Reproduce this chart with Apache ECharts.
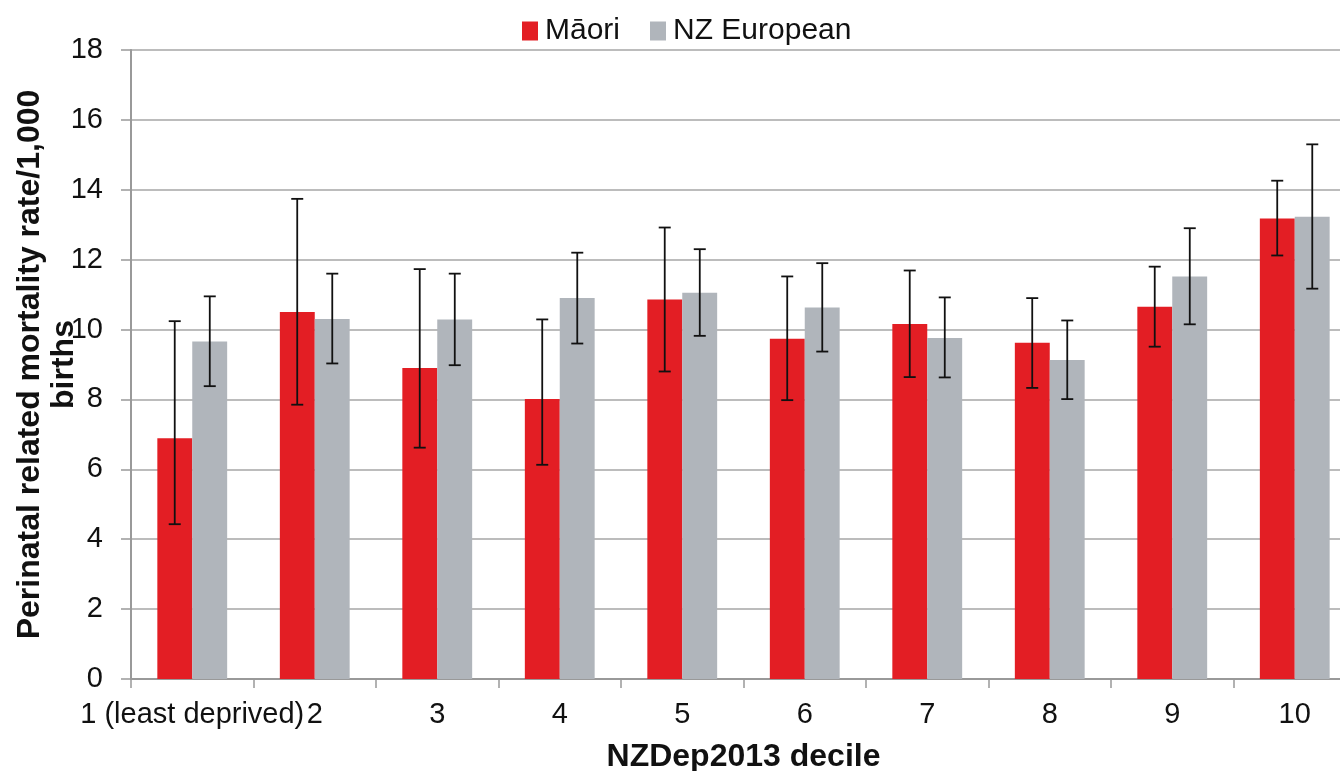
<!DOCTYPE html>
<html>
<head>
<meta charset="utf-8">
<script src="https://cdn.jsdelivr.net/npm/echarts@6/dist/echarts.min.js"></script>
<style>
html,body{margin:0;padding:0;background:#fff;}
#chart{width:1340px;height:771px;}
</style>
</head>
<body>
<div id="chart"></div>
<script>
const categories = ['1 (least deprived)', '2', '3', '4', '5', '6', '7', '8', '9', '10'];
const maori = [6.89, 10.5, 8.9, 8.01, 10.86, 9.74, 10.16, 9.62, 10.65, 13.18];
const maoriLow = [4.43, 7.85, 6.62, 6.13, 8.8, 7.98, 8.64, 8.33, 9.51, 12.12];
const maoriHigh = [10.24, 13.74, 11.73, 10.29, 12.92, 11.52, 11.69, 10.9, 11.8, 14.26];
const nzEuro = [9.66, 10.3, 10.29, 10.9, 11.05, 10.63, 9.76, 9.13, 11.52, 13.23];
const nzEuroLow = [8.38, 9.03, 8.98, 9.6, 9.82, 9.37, 8.63, 8.01, 10.15, 11.17];
const nzEuroHigh = [10.95, 11.6, 11.6, 12.2, 12.3, 11.9, 10.92, 10.26, 12.9, 15.3];
const yTicks = [0, 2, 4, 6, 8, 10, 12, 14, 16, 18];

const FONT = '"Liberation Sans", Arial, sans-serif';
const chart = echarts.init(document.getElementById('chart'));

function errData(low, high) {
  return categories.map((c, i) => [i, low[i], high[i]]);
}
function errRender(sign) {
  return function (params, api) {
    const idx = api.value(0);
    const lo = api.coord([idx, api.value(1)]);
    const hi = api.coord([idx, api.value(2)]);
    const band = api.size([1, 0])[0];
    const x = lo[0] + sign * band * 0.143;
    const cap = 6;
    const style = { stroke: '#111', lineWidth: 1.8 };
    return {
      type: 'group',
      children: [
        { type: 'line', shape: { x1: x, y1: hi[1], x2: x, y2: lo[1] }, style: style },
        { type: 'line', shape: { x1: x - cap, y1: hi[1], x2: x + cap, y2: hi[1] }, style: style },
        { type: 'line', shape: { x1: x - cap, y1: lo[1], x2: x + cap, y2: lo[1] }, style: style }
      ]
    };
  };
}

chart.setOption({
  animation: false,
  textStyle: { fontFamily: FONT },
  legend: {
    data: ['Māori', 'NZ European'],
    top: 11,
    left: 517,
    itemWidth: 16,
    itemHeight: 19,
    itemGap: 30,
    icon: 'rect',
    textStyle: { fontSize: 30, color: '#111', fontFamily: FONT, padding: [0, 0, 0, 2] }
  },
  grid: { left: 131, right: -16, top: 50, bottom: 92, containLabel: false, outerBoundsMode: 'none' },
  xAxis: {
    type: 'category',
    data: categories,
    axisLine: { lineStyle: { color: '#999', width: 2 } },
    axisTick: { show: true, length: 9, lineStyle: { color: '#999', width: 1.5 } },
    axisLabel: { interval: 0, fontSize: 29, color: '#111', margin: 21, fontFamily: FONT },
    name: 'NZDep2013 decile',
    nameLocation: 'middle',
    nameGap: 62,
    nameMoveOverlap: false,
    nameTextStyle: { fontSize: 32, fontWeight: 'bold', color: '#111', fontFamily: FONT }
  },
  yAxis: {
    type: 'value',
    min: 0,
    max: 18,
    interval: 2,
    axisLine: { show: true, lineStyle: { color: '#999', width: 2 } },
    axisTick: { show: true, length: 10, lineStyle: { color: '#999', width: 1.5 } },
    splitLine: { lineStyle: { color: '#a6a6a6', width: 1.5 } },
    axisLabel: { fontSize: 29, color: '#111', margin: 28, fontFamily: FONT,
      formatter: v => yTicks.includes(v) ? String(v) : '' },
    name: 'Perinatal related mortality rate/1,000\nbirths',
    nameLocation: 'middle',
    nameRotate: 90,
    nameGap: 50,
    nameMoveOverlap: false,
    nameTextStyle: { fontSize: 32, fontWeight: 'bold', color: '#111', lineHeight: 34, fontFamily: FONT }
  },
  series: [
    { name: 'Māori', type: 'bar', data: maori, barGap: '0%', barCategoryGap: '43%',
      itemStyle: { color: '#E31E24' } },
    { name: 'NZ European', type: 'bar', data: nzEuro, barGap: '0%', barCategoryGap: '43%',
      itemStyle: { color: '#B0B5BB' } },
    { type: 'custom', renderItem: errRender(-1), data: errData(maoriLow, maoriHigh), z: 10,
      encode: { x: 0, y: [1, 2] } },
    { type: 'custom', renderItem: errRender(1), data: errData(nzEuroLow, nzEuroHigh), z: 10,
      encode: { x: 0, y: [1, 2] } }
  ]
});
</script>
</body>
</html>
